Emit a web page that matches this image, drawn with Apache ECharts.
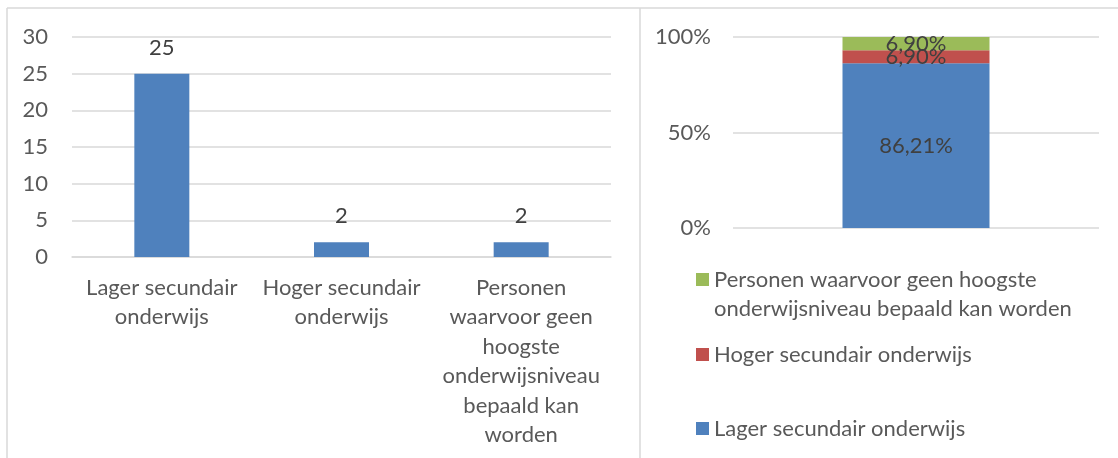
<!DOCTYPE html>
<html>
<head>
<meta charset="utf-8">
<script src="https://cdn.jsdelivr.net/npm/echarts@6/dist/echarts.min.js"></script>
<style>
  html, body { margin: 0; padding: 0; background: #fff; }
  #chart { width: 1118px; height: 458px; }
</style>
</head>
<body>
<div id="chart"></div>
<script>
// Education level categories
const categories = [
  'Lager secundair onderwijs',
  'Hoger secundair onderwijs',
  'Personen waarvoor geen hoogste onderwijsniveau bepaald kan worden'
];
// Wrapped tick labels for the count chart
const tickLabels = [
  'Lager secundair\nonderwijs',
  'Hoger secundair\nonderwijs',
  'Personen\nwaarvoor geen\nhoogste\nonderwijsniveau\nbepaald kan\nworden'
];
// Wrapped legend labels for the share chart
// (a leading empty line keeps the swatch level with the first text line)
const legendLabels = [
  'Lager secundair onderwijs',
  'Hoger secundair onderwijs',
  '\nPersonen waarvoor geen hoogste\nonderwijsniveau bepaald kan worden'
];
// Number of persons per level
const counts = [25, 2, 2];
// Share per level (%)
const shares = [86.21, 6.90, 6.90];
const colors = ['#4f81bd', '#c0504d', '#9bbb59'];

const FONT = 'Lato';
const FS = 22;
const TXT = '#595959';
const VAL = '#404040';
const GRID = '#d9d9d9';

const fmtPct = v => v.toFixed(2).replace('.', ',') + '%';

const shareSeries = categories.map((name, i) => ({
  name: name,
  type: 'bar',
  stack: 'share',
  xAxisIndex: 1,
  yAxisIndex: 1,
  barWidth: 147,
  itemStyle: { color: colors[i] },
  label: {
    show: true,
    position: 'inside',
    color: VAL,
    fontFamily: FONT,
    fontSize: FS,
    formatter: p => fmtPct(p.value)
  },
  data: [shares[i]]
}));

// one legend box per entry, listed top-down from the last series
const legendTops = [409, 335, 231];
const legends = categories.map((name, i) => ({
  left: 691,
  top: legendTops[i],
  orient: 'vertical',
  icon: 'rect',
  itemWidth: 13,
  itemHeight: 13,
  selectedMode: false,
  data: [name],
  formatter: () => legendLabels[i],
  textStyle: { color: TXT, fontFamily: FONT, fontSize: FS, lineHeight: 29 }
}));

const option = {
  animation: false,
  textStyle: { fontFamily: FONT },
  legend: legends,
  grid: [
    { left: 72, right: 507, top: 37, bottom: 201 },
    { left: 733, right: 19, top: 37, bottom: 230 }
  ],
  xAxis: [
    {
      gridIndex: 0,
      type: 'category',
      data: categories,
      axisLine: { lineStyle: { color: GRID, width: 1.5 } },
      axisTick: { show: false },
      axisLabel: {
        color: TXT, fontFamily: FONT, fontSize: FS, lineHeight: 29.5, margin: 16,
        interval: 0,
        formatter: (v, i) => tickLabels[i]
      }
    },
    {
      gridIndex: 1,
      type: 'category',
      data: [''],
      axisLine: { show: false },
      axisTick: { show: false },
      axisLabel: { show: false }
    }
  ],
  yAxis: [
    {
      gridIndex: 0,
      type: 'value',
      min: 0, max: 30, interval: 5,
      axisLine: { show: false },
      axisTick: { show: false },
      splitLine: { lineStyle: { color: GRID, width: 1.5 } },
      axisLabel: { color: TXT, fontFamily: FONT, fontSize: FS, margin: 24 }
    },
    {
      gridIndex: 1,
      type: 'value',
      min: 0, max: 100, interval: 50,
      axisLine: { show: false },
      axisTick: { show: false },
      splitLine: { lineStyle: { color: GRID, width: 1.5 } },
      axisLabel: { color: TXT, fontFamily: FONT, fontSize: FS, margin: 22, formatter: '{value}%' }
    }
  ],
  series: [
    {
      name: 'Aantal',
      type: 'bar',
      xAxisIndex: 0,
      yAxisIndex: 0,
      barWidth: 55,
      itemStyle: { color: colors[0] },
      label: {
        show: true,
        position: 'top',
        distance: 15,
        color: VAL,
        fontFamily: FONT,
        fontSize: FS
      },
      data: counts
    }
  ].concat(shareSeries),
  graphic: [
    // panel frames
    { type: 'line', shape: { x1: 7, y1: 8, x2: 7, y2: 458 }, style: { stroke: GRID, lineWidth: 1.5 } },
    { type: 'line', shape: { x1: 7, y1: 8, x2: 1118, y2: 8 }, style: { stroke: GRID, lineWidth: 1.5 } },
    { type: 'line', shape: { x1: 640, y1: 8, x2: 640, y2: 458 }, style: { stroke: GRID, lineWidth: 1.5 } }
  ]
};

const chart = echarts.init(document.getElementById('chart'), null, { renderer: 'canvas' });
chart.setOption(option);
</script>
</body>
</html>
